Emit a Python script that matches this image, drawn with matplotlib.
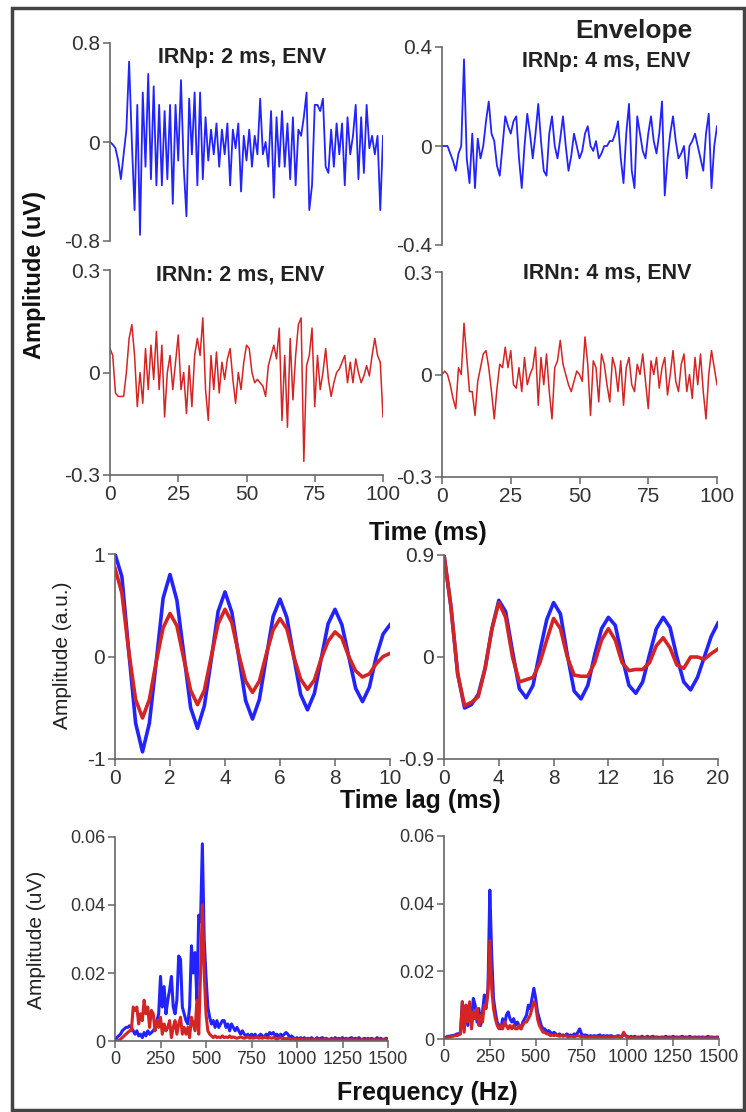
import numpy as np
import matplotlib
matplotlib.use("Agg")
import matplotlib.pyplot as plt
from matplotlib.patches import Rectangle

plt.rcParams["font.family"] = ["Liberation Sans", "DejaVu Sans"]
plt.rcParams["axes.unicode_minus"] = False

W, H = 746, 1112

# ---- time waveforms (1 ms steps, 0..100 ms) ----
time_ms = np.arange(101)

irnp_2ms = [
    0, -0.02, -0.05, -0.15, -0.3, -0.1, 0.1, 0.65, 0.0, -0.55,
    0.3, -0.75, 0.4, -0.2, 0.55, -0.3, 0.45, -0.35, 0.3, -0.35,
    0.25, -0.3, 0.3, -0.5, 0.3, -0.15, 0.5, -0.2, -0.6, 0.35,
    -0.1, 0.4, -0.35, 0.4, -0.3, 0.2, -0.15, 0.1, -0.1, 0.15,
    -0.2, 0.1, -0.1, 0.15, -0.35, 0.1, -0.05, 0.15, -0.4, 0.05,
    -0.15, 0.1, -0.2, 0.05, -0.1, 0.35, -0.1, 0.0, -0.2, 0.25,
    -0.45, 0.2, -0.2, 0.25, -0.2, 0.15, -0.3, 0.2, -0.35, 0.1,
    0.05, 0.2, 0.4, -0.55, -0.35, 0.3, 0.3, 0.25, 0.35, -0.2,
    -0.25, 0.1, -0.2, 0.15, -0.1, 0.15, -0.35, 0.2, -0.1, 0.05,
    0.3, -0.3, 0.2, -0.25, 0.3, -0.05, 0.05, -0.1, 0.05, -0.55,
    0.05,
]

irnp_4ms = [
    0.0, 0.0, 0.0, -0.03, -0.06, -0.1, -0.03, 0.0, 0.35, -0.05,
    -0.15, 0.05, -0.17, 0.03, -0.05, 0.0, 0.1, 0.18, 0.05, 0.02,
    -0.08, -0.12, 0.0, 0.12, 0.08, 0.05, 0.1, 0.12, -0.05, -0.17,
    0.0, 0.13, 0.05, -0.05, 0.05, 0.17, 0.02, -0.1, -0.12, 0.05,
    0.12, 0.0, -0.05, 0.03, 0.12, 0.0, -0.1, -0.04, 0.05, 0.0,
    -0.05, -0.02, 0.05, 0.08, 0.0, -0.02, 0.02, -0.05, -0.03, 0.0,
    0.0, 0.02, 0.02, 0.05, 0.1, -0.05, -0.15, 0.05, 0.17, -0.1,
    -0.17, 0.12, 0.05, -0.02, -0.05, 0.05, 0.12, 0.02, -0.03, 0.05,
    0.18, -0.2, -0.05, 0.05, 0.12, 0.02, -0.05, -0.03, 0.0, -0.13,
    0.0, 0.02, 0.05, 0.0, -0.05, -0.1, 0.05, 0.13, -0.17, 0.0,
    0.08,
]

irnn_2ms = [
    0.07, 0.05, -0.06, -0.07, -0.07, -0.07, 0.0, 0.1, 0.14, 0.05,
    -0.1, 0.0, -0.09, 0.07, -0.05, 0.08, -0.02, 0.12, -0.05, 0.08,
    -0.13, 0.0, 0.05, -0.05, 0.03, 0.11, -0.05, 0.0, -0.12, 0.02,
    -0.1, 0.05, 0.1, 0.05, 0.16, -0.05, -0.14, 0.05, -0.05, 0.06,
    -0.06, 0.03, -0.02, 0.04, 0.07, -0.02, -0.09, 0.0, -0.05, 0.03,
    0.08, 0.07, 0.0, -0.03, -0.02, -0.03, -0.04, -0.07, 0.02, 0.05,
    0.08, 0.04, 0.13, -0.14, 0.05, -0.16, 0.1, -0.08, 0.05, 0.14,
    0.16, -0.26, 0.02, 0.05, 0.13, -0.1, 0.05, -0.05, 0.0, 0.07,
    -0.02, -0.07, -0.03, 0.0, 0.01, 0.03, 0.05, -0.03, 0.03, -0.03,
    0.04, 0.0, -0.03, -0.01, 0.02, -0.01, 0.05, 0.1, 0.05, 0.03,
    -0.13,
]

irnn_4ms = [
    0.0, 0.01, 0.0, -0.03, -0.07, -0.1, 0.02, 0.0, 0.15, 0.05,
    -0.05, -0.05, -0.12, -0.02, 0.02, 0.06, 0.07, 0.02, -0.05, -0.13,
    -0.04, 0.03, 0.02, 0.08, 0.02, 0.07, -0.03, -0.04, 0.02, -0.05,
    0.05, -0.03, 0.0, 0.02, 0.08, -0.09, 0.05, -0.03, 0.06, -0.05,
    -0.13, 0.02, 0.04, 0.1, 0.03, 0.0, -0.03, -0.05, -0.02, 0.01,
    0.0, -0.02, 0.11, 0.03, -0.12, 0.04, 0.02, -0.08, 0.06, 0.03,
    -0.03, -0.08, 0.05, 0.02, -0.05, 0.04, -0.09, 0.02, 0.05, -0.03,
    -0.05, 0.03, 0.0, 0.06, -0.02, -0.1, 0.04, 0.0, 0.05, -0.04,
    0.02, 0.05, -0.06, 0.0, 0.07, -0.02, -0.05, 0.03, 0.06, -0.05,
    0.0, -0.07, 0.05, -0.03, 0.06, -0.05, -0.13, 0.0, 0.07, 0.02,
    -0.03,
]

# ---- autocorrelation ----
lag_2ms = np.arange(41) * 0.25
acf2_p = [
    1.00, 0.78, 0.05, -0.65, -0.93, -0.65, -0.05, 0.57, 0.80, 0.55,
    0.03, -0.50, -0.70, -0.48, -0.03, 0.44, 0.63, 0.43, 0.0, -0.43,
    -0.61, -0.42, -0.01, 0.39, 0.56, 0.38, 0.0, -0.37, -0.52, -0.36,
    -0.02, 0.32, 0.46, 0.31, 0.0, -0.31, -0.44, -0.30, 0.0, 0.22,
    0.31,
]
acf2_n = [
    0.86, 0.62, 0.05, -0.42, -0.60, -0.42, -0.05, 0.28, 0.42, 0.30,
    -0.02, -0.33, -0.47, -0.33, 0.0, 0.32, 0.46, 0.33, 0.02, -0.24,
    -0.35, -0.24, 0.02, 0.26, 0.37, 0.27, 0.0, -0.22, -0.32, -0.23,
    -0.02, 0.15, 0.24, 0.18, 0.0, -0.14, -0.20, -0.17, -0.07, 0.0,
    0.03,
]

lag_4ms = np.arange(41) * 0.5
acf4_p = [
    0.90, 0.45, -0.15, -0.45, -0.42, -0.33, -0.10, 0.25, 0.50, 0.40,
    0.05, -0.28, -0.36, -0.25, 0.05, 0.33, 0.48, 0.38, 0.02, -0.30,
    -0.37, -0.25, 0.02, 0.25, 0.35, 0.28, 0.0, -0.25, -0.32, -0.22,
    0.02, 0.25, 0.35, 0.26, 0.0, -0.22, -0.29, -0.18, 0.0, 0.18,
    0.30,
]
acf4_n = [
    0.90, 0.45, -0.15, -0.43, -0.40, -0.35, -0.10, 0.25, 0.48, 0.35,
    0.0, -0.22, -0.20, -0.18, -0.05, 0.15, 0.34, 0.25, 0.0, -0.16,
    -0.17, -0.17, -0.05, 0.15, 0.25, 0.15, -0.05, -0.12, -0.11, -0.11,
    -0.05, 0.10, 0.17, 0.08, -0.07, -0.10, 0.0, 0.0, -0.02, 0.03,
    0.07,
]

# ---- spectra (10 Hz steps, 0..1500 Hz) ----
freq_hz = np.arange(151) * 10

spec2_p = [
    0.0005, 0.001, 0.0015, 0.002, 0.003, 0.0035, 0.004, 0.004, 0.0045, 0.004,
    0.003, 0.002, 0.003, 0.0015, 0.002, 0.001, 0.0025, 0.0015, 0.003, 0.002,
    0.0025, 0.003, 0.004, 0.006, 0.008, 0.019, 0.01, 0.016, 0.008, 0.012,
    0.015, 0.019, 0.01, 0.008, 0.012, 0.025, 0.024, 0.01, 0.008, 0.006,
    0.005, 0.01, 0.028, 0.02, 0.026, 0.012, 0.037, 0.035, 0.058, 0.03,
    0.019, 0.01, 0.007, 0.005, 0.006, 0.004, 0.006, 0.004, 0.005, 0.006,
    0.006, 0.004, 0.005, 0.003, 0.005, 0.004, 0.003, 0.004, 0.003, 0.002,
    0.003, 0.002, 0.0015, 0.002, 0.001, 0.002, 0.0015, 0.002, 0.001, 0.0015,
    0.002, 0.0015, 0.001, 0.002, 0.0015, 0.0025, 0.002, 0.0025, 0.0015, 0.002,
    0.001, 0.002, 0.0015, 0.002, 0.0025, 0.002, 0.001, 0.0015, 0.001, 0.0005,
    0.001, 0.0005, 0.001, 0.0005, 0.001, 0.0005, 0.0008, 0.0005, 0.001, 0.0005,
    0.0005, 0.001, 0.0005, 0.0008, 0.001, 0.0005, 0.0008, 0.0005, 0.0005, 0.0008,
    0.0005, 0.001, 0.0005, 0.0008, 0.0005, 0.001, 0.0005, 0.0008, 0.0005, 0.0008,
    0.001, 0.0005, 0.0008, 0.0005, 0.001, 0.0005, 0.0005, 0.0008, 0.0005, 0.0008,
    0.0005, 0.0008, 0.0005, 0.0005, 0.001, 0.0005, 0.0008, 0.0005, 0.0005, 0.0008,
    0.0005,
]
spec2_n = [
    0.0, 0.0, 0.0002, 0.0005, 0.001, 0.0015, 0.002, 0.0025, 0.003, 0.003,
    0.01, 0.009, 0.01, 0.005, 0.008, 0.006, 0.012, 0.008, 0.01, 0.004,
    0.009, 0.008, 0.003, 0.006, 0.004, 0.007, 0.002, 0.005, 0.003, 0.004,
    0.006, 0.001, 0.004, 0.006, 0.002, 0.005, 0.007, 0.002, 0.004, 0.002,
    0.004, 0.001, 0.007, 0.005, 0.003, 0.012, 0.002, 0.02, 0.04, 0.02,
    0.008, 0.003, 0.002, 0.0015, 0.001, 0.0015, 0.001, 0.0012, 0.001, 0.0015,
    0.001, 0.0012, 0.001, 0.0015, 0.001, 0.0012, 0.001, 0.0008, 0.001, 0.0012,
    0.001, 0.0008, 0.001, 0.0012, 0.0008, 0.001, 0.0008, 0.001, 0.0012, 0.0008,
    0.001, 0.0008, 0.0012, 0.001, 0.0008, 0.001, 0.0008, 0.001, 0.0008, 0.0006,
    0.0008, 0.001, 0.0006, 0.0008, 0.0006, 0.0008, 0.0006, 0.0005, 0.0006, 0.0005,
    0.0005, 0.0004, 0.0005, 0.0003, 0.0004, 0.0005, 0.0003, 0.0004, 0.0003, 0.0004,
    0.0003, 0.0004, 0.0003, 0.0003, 0.0004, 0.0003, 0.0004, 0.0003, 0.0003, 0.0004,
    0.0003, 0.0004, 0.0003, 0.0003, 0.0004, 0.0003, 0.0003, 0.0004, 0.0003, 0.0003,
    0.0004, 0.0003, 0.0003, 0.0004, 0.0003, 0.0003, 0.0004, 0.0003, 0.0003, 0.0004,
    0.0003, 0.0003, 0.0004, 0.0003, 0.0003, 0.0004, 0.0003, 0.0003, 0.0004, 0.0003,
    0.0003,
]
spec4_p = [
    0.0005, 0.0005, 0.0008, 0.0008, 0.001, 0.001, 0.0012, 0.0015, 0.0015, 0.002,
    0.011, 0.003, 0.01, 0.004, 0.009, 0.006, 0.012, 0.01, 0.005, 0.009,
    0.004, 0.008, 0.013, 0.01, 0.015, 0.044, 0.025, 0.012, 0.008, 0.005,
    0.004, 0.003, 0.006, 0.004, 0.007, 0.008, 0.006, 0.005, 0.006, 0.004,
    0.005, 0.004, 0.003, 0.005, 0.006, 0.007, 0.01, 0.009, 0.012, 0.015,
    0.012, 0.008, 0.006, 0.004, 0.003, 0.003, 0.002, 0.0025, 0.002, 0.0015,
    0.002, 0.0015, 0.001, 0.0015, 0.001, 0.0012, 0.001, 0.0015, 0.001, 0.0012,
    0.001, 0.0015, 0.0012, 0.002, 0.003, 0.0015, 0.001, 0.0012, 0.001, 0.0008,
    0.001, 0.0008, 0.001, 0.0008, 0.001, 0.0012, 0.0008, 0.001, 0.0008, 0.001,
    0.0008, 0.001, 0.0008, 0.0006, 0.0008, 0.001, 0.0008, 0.0006, 0.0015, 0.001,
    0.0008, 0.0005, 0.0008, 0.0005, 0.0008, 0.0005, 0.0006, 0.0005, 0.0008, 0.0005,
    0.0005, 0.0008, 0.0005, 0.0006, 0.0008, 0.0005, 0.0006, 0.0005, 0.0005, 0.0006,
    0.0005, 0.0008, 0.0005, 0.0006, 0.0005, 0.0008, 0.0005, 0.0006, 0.0005, 0.0006,
    0.0008, 0.0005, 0.0006, 0.0005, 0.0008, 0.0005, 0.0005, 0.0006, 0.0005, 0.0006,
    0.0005, 0.0006, 0.0005, 0.0005, 0.0008, 0.0005, 0.0006, 0.0005, 0.0005, 0.0006,
    0.0005,
]
spec4_n = [
    0.0003, 0.0003, 0.0005, 0.0005, 0.0008, 0.0008, 0.001, 0.001, 0.0012, 0.0015,
    0.011, 0.002, 0.01, 0.005, 0.011, 0.003, 0.008, 0.006, 0.009, 0.004,
    0.007, 0.005, 0.01, 0.009, 0.014, 0.029, 0.015, 0.009, 0.006, 0.004,
    0.003, 0.004, 0.003, 0.005, 0.004, 0.003, 0.004, 0.003, 0.004, 0.003,
    0.003, 0.004, 0.003, 0.004, 0.005, 0.005, 0.006, 0.007, 0.009, 0.011,
    0.01, 0.006, 0.004, 0.003, 0.002, 0.002, 0.0015, 0.0015, 0.001, 0.0012,
    0.001, 0.0012, 0.001, 0.0008, 0.001, 0.0008, 0.001, 0.0008, 0.0006, 0.0008,
    0.0008, 0.0006, 0.0008, 0.001, 0.0008, 0.0006, 0.0008, 0.0006, 0.0005, 0.0006,
    0.0005, 0.0006, 0.0005, 0.0006, 0.0005, 0.0006, 0.0005, 0.0006, 0.0005, 0.0006,
    0.0005, 0.0006, 0.0005, 0.0006, 0.0008, 0.0006, 0.0005, 0.0008, 0.002, 0.001,
    0.0005, 0.0004, 0.0005, 0.0003, 0.0004, 0.0005, 0.0003, 0.0004, 0.0003, 0.0004,
    0.0003, 0.0004, 0.0003, 0.0003, 0.0004, 0.0003, 0.0004, 0.0003, 0.0003, 0.0004,
    0.0003, 0.0004, 0.0003, 0.0003, 0.0004, 0.0003, 0.0003, 0.0004, 0.0003, 0.0003,
    0.0004, 0.0003, 0.0003, 0.0004, 0.0003, 0.0003, 0.0004, 0.0003, 0.0003, 0.0004,
    0.0003, 0.0003, 0.0004, 0.0003, 0.0003, 0.0004, 0.0003, 0.0003, 0.0004, 0.0003,
    0.0003,
]

BLUE = "#2323ff"
RED = "#d42424"
SPINE = "#666666"
LABEL = "#333333"


def box(x0, x1, y0, y1):
    # pixel box -> figure fraction
    return [x0 / W, 1 - y1 / H, (x1 - x0) / W, (y1 - y0) / H]


def style(ax, show_x=True, labelsize=15):
    for s in ("top", "right"):
        ax.spines[s].set_visible(False)
    for s in ("left", "bottom"):
        ax.spines[s].set_color(SPINE)
        ax.spines[s].set_linewidth(1.2)
    ax.tick_params(colors=SPINE, labelcolor=LABEL, length=5, width=1.1,
                   labelsize=labelsize, pad=2)
    ax.patch.set_alpha(0)
    if not show_x:
        ax.spines["bottom"].set_visible(False)
        ax.set_xticks([])


def yticks(ax, lim, labels):
    ax.set_ylim(-lim, lim)
    ax.set_yticks([-lim, 0, lim])
    ax.set_yticklabels(labels)


fig = plt.figure(figsize=(W / 100, H / 100), dpi=100)

# row 1: IRNp waveforms
ax = fig.add_axes(box(110, 383, 43, 241))
ax.plot(time_ms, irnp_2ms, color=BLUE, lw=1.3)
ax.set_xlim(0, 100)
yticks(ax, 0.8, ["-0.8", "0", "0.8"])
style(ax, show_x=False)

ax = fig.add_axes(box(442, 717, 47, 245))
ax.plot(time_ms, irnp_4ms, color=BLUE, lw=1.3)
ax.set_xlim(0, 100)
yticks(ax, 0.4, ["-0.4", "0", "0.4"])
style(ax, show_x=False)

# row 2: IRNn waveforms
for (x0, x1, y0, y1), data in [((110, 383, 270, 475), irnn_2ms),
                                ((442, 717, 272, 477), irnn_4ms)]:
    ax = fig.add_axes(box(x0, x1, y0, y1))
    ax.plot(time_ms, data, color=RED, lw=1.1)
    ax.set_xlim(0, 100)
    ax.set_xticks([0, 25, 50, 75, 100])
    yticks(ax, 0.3, ["-0.3", "0", "0.3"])
    style(ax)

# row 3: autocorrelation
ax = fig.add_axes(box(115, 390, 554, 759))
ax.plot(lag_2ms, acf2_p, color=BLUE, lw=2.6, solid_joinstyle="round")
ax.plot(lag_2ms, acf2_n, color=RED, lw=2.6, solid_joinstyle="round")
ax.set_xlim(0, 10)
ax.set_xticks([0, 2, 4, 6, 8, 10])
yticks(ax, 1, ["-1", "0", "1"])
style(ax)

ax = fig.add_axes(box(444, 718, 555, 759))
ax.plot(lag_4ms, acf4_p, color=BLUE, lw=2.6, solid_joinstyle="round")
ax.plot(lag_4ms, acf4_n, color=RED, lw=2.6, solid_joinstyle="round")
ax.set_xlim(0, 20)
ax.set_xticks([0, 4, 8, 12, 16, 20])
yticks(ax, 0.9, ["-0.9", "0", "0.9"])
style(ax)

# row 4: spectra
for (x0, x1, y0, y1), blue, red in [
        ((115, 388, 837, 1041), spec2_p, spec2_n),
        ((444, 719, 836, 1039), spec4_p, spec4_n)]:
    ax = fig.add_axes(box(x0, x1, y0, y1))
    ax.plot(freq_hz, blue, color=BLUE, lw=2.2)
    ax.plot(freq_hz, red, color=RED, lw=2.2)
    ax.set_xlim(0, 1500)
    ax.set_ylim(0, 0.06)
    ax.set_xticks([0, 250, 500, 750, 1000, 1250, 1500])
    ax.set_yticks([0, 0.02, 0.04, 0.06])
    ax.set_yticklabels(["0", "0.02", "0.04", "0.06"])
    style(ax, labelsize=13)

# texts
def ftext(x, y, s, **kw):
    fig.text(x / W, 1 - y / H, s, ha="center", va="center", **kw)

ftext(634, 31, "Envelope", fontsize=19, fontweight="bold", color="#222222")
ftext(242, 58, "IRNp: 2 ms, ENV", fontsize=15.5, fontweight="bold", color="#222222")
ftext(606, 61, "IRNp: 4 ms, ENV", fontsize=15.5, fontweight="bold", color="#222222")
ftext(240, 275, "IRNn: 2 ms, ENV", fontsize=15.5, fontweight="bold", color="#222222")
ftext(607, 273, "IRNn: 4 ms, ENV", fontsize=15.5, fontweight="bold", color="#222222")
ftext(35, 275, "Amplitude (uV)", fontsize=17, fontweight="bold", color="#111111",
      rotation=90)
ftext(428, 533, "Time (ms)", fontsize=18, fontweight="bold", color="#111111")
ftext(420, 801, "Time lag (ms)", fontsize=18, fontweight="bold", color="#111111")
ftext(427, 1093, "Frequency (Hz)", fontsize=18, fontweight="bold", color="#111111")
ftext(62, 655, "Amplitude (a.u.)", fontsize=15, color="#222222", rotation=90)
ftext(36, 940, "Amplitude (uV)", fontsize=15, color="#222222", rotation=90)

# frame around the whole figure
fig.add_artist(Rectangle((12 / W, 1 - 1110 / H), (744 - 12) / W, (1110 - 8) / H,
                         transform=fig.transFigure, fill=False, lw=2.5,
                         ec="#444444"))

fig.savefig("out.png", dpi=100)
